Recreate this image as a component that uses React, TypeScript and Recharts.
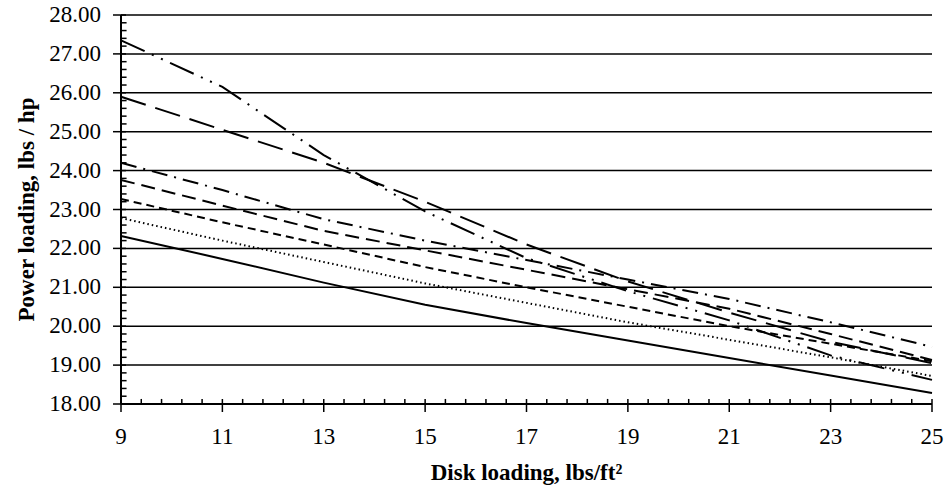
import React from 'react';
import { LineChart, Line, XAxis, YAxis, CartesianGrid, Label, ReferenceLine } from 'recharts';

// disk loading, lbs/ft^2
const diskLoading = [9, 11, 13, 15, 17, 19, 21, 23, 25];

// power loading, lbs/hp, one array per curve
const solidLine = [22.32, 21.73, 21.12, 20.55, 20.08, 19.63, 19.18, 18.73, 18.28];
const dottedLine = [22.78, 22.2, 21.65, 21.1, 20.6, 20.1, 19.65, 19.2, 18.72];
const shortDashLine = [23.27, 22.67, 22.1, 21.52, 21.0, 20.5, 20.0, 19.55, 19.1];
const dashLine = [23.76, 23.1, 22.45, 21.95, 21.45, 20.95, 20.45, 19.8, 19.13];
const dashDotLine = [24.2, 23.5, 22.75, 22.2, 21.7, 21.2, 20.7, 20.1, 19.47];
const longDashLine = [25.9, 25.05, 24.2, 23.2, 22.1, 21.15, 20.35, 19.6, 19.05];
const dashDotDotLine = [27.35, 26.15, 24.4, 22.95, 21.75, 20.9, 20.15, 19.25, 18.62];

const xTicks = [9, 11, 13, 15, 17, 19, 21, 23, 25];
const yTicks = [18, 19, 20, 21, 22, 23, 24, 25, 26, 27, 28];

// minor tick positions: every 0.4 on x, every 0.2 on y
const xMinorTicks: number[] = [];
for (let i = 0; i <= 40; i++) {
  const v = Math.round((9 + i * 0.4) * 10) / 10;
  if (!xTicks.includes(v)) xMinorTicks.push(v);
}
const yMinorTicks: number[] = [];
for (let i = 0; i <= 50; i++) {
  const v = Math.round((18 + i * 0.2) * 10) / 10;
  if (!yTicks.includes(v)) yMinorTicks.push(v);
}

const data = diskLoading.map((x, i) => ({
  x,
  solid: solidLine[i],
  dotted: dottedLine[i],
  shortDash: shortDashLine[i],
  dash: dashLine[i],
  dashDot: dashDotLine[i],
  longDash: longDashLine[i],
  dashDotDot: dashDotDotLine[i],
}));

const SERIES = [
  { key: 'solid', dash: undefined },
  { key: 'dotted', dash: '1.5 3' },
  { key: 'shortDash', dash: '8 5' },
  { key: 'dash', dash: '14 7' },
  { key: 'dashDot', dash: '16 7 2 7' },
  { key: 'longDash', dash: '26 10' },
  { key: 'dashDotDot', dash: '26 8 2 8 2 8' },
];

const font = '"Liberation Serif", "Times New Roman", serif';

const XTick = (props: any) => {
  const { x, y, payload } = props;
  return (
    <g>
      <line x1={x} x2={x} y1={y - 5} y2={y + 8} stroke="#000" strokeWidth={1.5} />
      <text x={x} y={y + 40} textAnchor="middle" fill="#000" fontSize={23} fontFamily={font}>
        {payload.value}
      </text>
    </g>
  );
};

const YTick = (props: any) => {
  const { x, y, payload } = props;
  return (
    <g>
      <line x1={x - 8} x2={x + 5} y1={y} y2={y} stroke="#000" strokeWidth={1.5} />
      <text x={x - 20} y={y + 7} textAnchor="end" fill="#000" fontSize={23} fontFamily={font}>
        {payload.value.toFixed(2)}
      </text>
    </g>
  );
};

const App: React.FC = () => {
  return (
    <div style={{ position: 'absolute', left: 0, top: 0, fontFamily: font }}>
      <LineChart width={947} height={491} data={data} margin={{ top: 15, right: 15, bottom: 11, left: 51 }}>
        <CartesianGrid vertical={false} horizontalValues={yTicks} stroke="#000" strokeWidth={1.5} />
        <XAxis
          dataKey="x"
          type="number"
          domain={[9, 25]}
          ticks={xTicks}
          interval={0}
          height={76}
          axisLine={{ stroke: '#000', strokeWidth: 2 }}
          tickLine={false}
          tickSize={0}
          tickMargin={0}
          tick={<XTick />}
        >
          <Label
            value="Disk loading, lbs/ft²"
            position="insideBottom"
            offset={0}
            style={{ fill: '#000', fontSize: 23, fontWeight: 'bold', fontFamily: font }}
          />
        </XAxis>
        <YAxis
          type="number"
          domain={[18, 28]}
          ticks={yTicks}
          interval={0}
          width={70}
          axisLine={{ stroke: '#000', strokeWidth: 2 }}
          tickLine={false}
          tickSize={0}
          tickMargin={0}
          tick={<YTick />}
        >
          <Label
            value="Power loading, lbs / hp"
            angle={-90}
            position="insideLeft"
            offset={-25}
            style={{ textAnchor: 'middle', fill: '#000', fontSize: 23, fontWeight: 'bold', fontFamily: font }}
          />
        </YAxis>
        {/* minor ticks, drawn inside the plot like the original */}
        {yMinorTicks.map((v) => (
          <ReferenceLine
            key={`ym-${v}`}
            segment={[{ x: 9, y: v }, { x: 9.11, y: v }]}
            stroke="#000"
            strokeWidth={1.5}
          />
        ))}
        {xMinorTicks.map((v) => (
          <ReferenceLine
            key={`xm-${v}`}
            segment={[{ x: v, y: 18 }, { x: v, y: 18.13 }]}
            stroke="#000"
            strokeWidth={1.5}
          />
        ))}
        {SERIES.map((s) => (
          <Line
            key={s.key}
            dataKey={s.key}
            type="linear"
            stroke="#000"
            strokeWidth={2}
            strokeDasharray={s.dash}
            dot={false}
            activeDot={false}
            isAnimationActive={false}
          />
        ))}
      </LineChart>
    </div>
  );
};

export default App;
